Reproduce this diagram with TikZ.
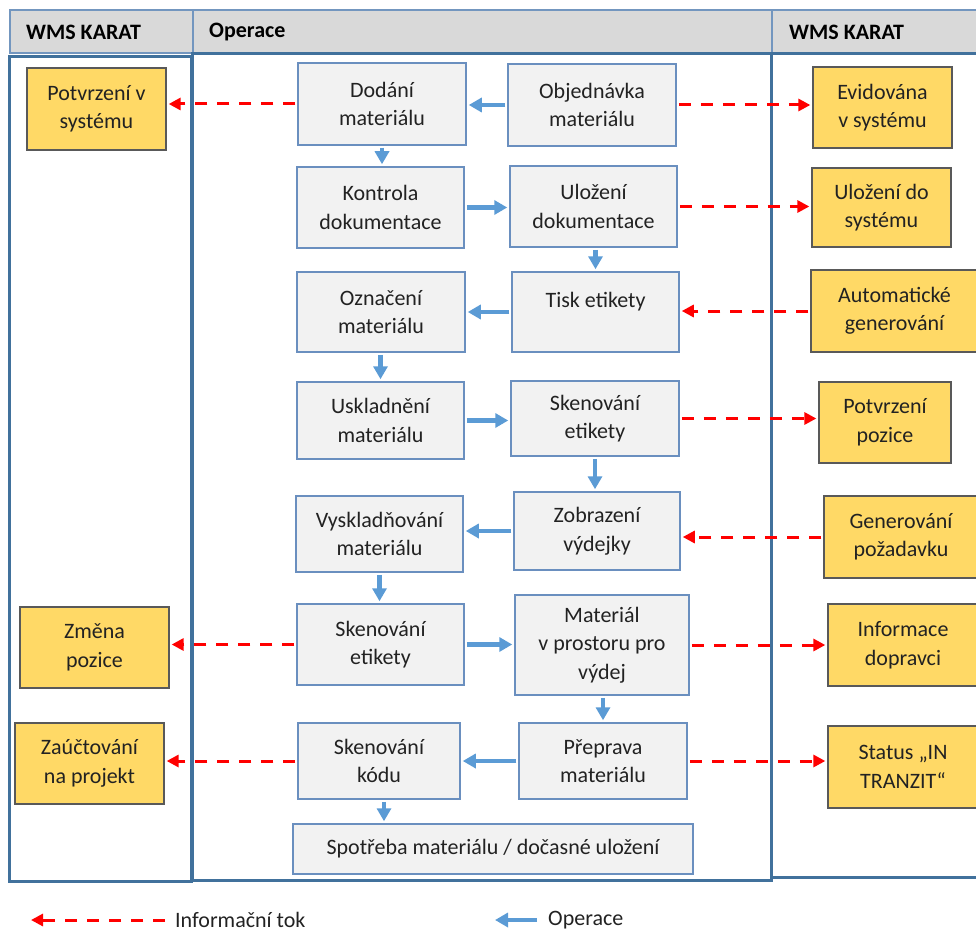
\documentclass[tikz,border=0pt]{standalone}
\usepackage{fontspec}
\setmainfont{Carlito}
\usetikzlibrary{arrows.meta}
\definecolor{lane}{HTML}{41719C}
\definecolor{headfill}{HTML}{D9D9D9}
\definecolor{headline}{HTML}{7396BF}
\definecolor{procfill}{HTML}{F2F2F2}
\definecolor{procline}{HTML}{6A8FBF}
\definecolor{notefill}{HTML}{FFD966}
\definecolor{noteline}{HTML}{595959}
\definecolor{opblue}{HTML}{5B9BD5}
\definecolor{infored}{HTML}{FF0000}
\definecolor{txt}{HTML}{222222}
\begin{document}
\begin{tikzpicture}[x=1pt,y=-1pt,
  font=\fontsize{22}{28.5}\selectfont,
  proc/.style={draw=procline, fill=procfill, line width=1.5pt, align=center, inner sep=0pt, text=txt},
  note/.style={draw=noteline, fill=notefill, line width=1.3pt, align=center, inner sep=0pt, text=txt},
  op/.style={draw=opblue, line width=4.5pt, -{Triangle[length=13pt,width=14pt]}, shorten <=2pt, shorten >=2pt},
  info/.style={draw=infored, line width=3pt, dash pattern=on 12pt off 10pt, -{Triangle[length=12pt,width=12pt]}, shorten <=2pt, shorten >=2pt},
  headcell/.style={draw=headline, fill=headfill, line width=1.2pt},
  headtext/.style={font=\fontsize{22}{26}\selectfont\bfseries, anchor=west, text=black, inner sep=0pt},
  lanebox/.style={draw=lane, line width=3pt},
  legtext/.style={anchor=west, text=txt, inner sep=0pt}
]
\useasboundingbox (0,0) rectangle (976,933);

% column headers
\draw[headcell] (10,10) rectangle (193,53);
\draw[headcell] (193,10) rectangle (772,53);
\draw[headcell] (772,10) rectangle (990,53);
\node[headtext] (h1) at (26,32) {WMS KARAT};
\node[headtext] (h2) at (209,32) {Operace};
\node[headtext] (h3) at (789,32) {WMS KARAT};

% swim lanes
\draw[lanebox] (9,57) rectangle (191,881);
\draw[lanebox] (771,54) rectangle (990,877);
\draw[lanebox] (192,54) rectangle (771,880);

% process steps
\node[proc, minimum width=168pt, minimum height=82pt] (dod) at (382,104) {Dodání\\materiálu};
\node[proc, minimum width=168pt, minimum height=82pt] (obj) at (592,105) {Objednávka\\materiálu};
\node[proc, minimum width=167pt, minimum height=81pt] (kon) at (380.5,207.5) {Kontrola\\dokumentace};
\node[proc, minimum width=167pt, minimum height=81pt] (ulo) at (593.5,206.5) {Uložení\\dokumentace};
\node[proc, minimum width=168pt, minimum height=80pt] (ozn) at (381,312) {Označení\\materiálu};
\node[proc, minimum width=167pt, minimum height=80pt,
      label={[yshift=10pt, text=txt]center:Tisk etikety}] (tis) at (595.5,312) {};
\node[proc, minimum width=167pt, minimum height=77pt] (usk) at (380.5,420.5) {Uskladnění\\materiálu};
\node[proc, minimum width=168pt, minimum height=75pt] (ske) at (595,418.5) {Skenování\\etikety};
\node[proc, minimum width=167pt, minimum height=76pt] (vys) at (379.5,534) {Vyskladňování\\materiálu};
\node[proc, minimum width=166pt, minimum height=78pt] (zob) at (597,531) {Zobrazení\\výdejky};
\node[proc, minimum width=167pt, minimum height=81pt] (sk2) at (380.5,644.5) {Skenování\\etikety};
\node[proc, minimum width=174pt, minimum height=100pt] (mat) at (602,645) {Materiál\\v prostoru pro\\výdej};
\node[proc, minimum width=162pt, minimum height=76pt] (skk) at (379,761) {Skenování\\kódu};
\node[proc, minimum width=168pt, minimum height=76pt] (pre) at (603,761) {Přeprava\\materiálu};
\node[proc, minimum width=400pt, minimum height=50pt] (spo) at (493,849) {Spotřeba materiálu / dočasné uložení};

% system records
\node[note, minimum width=139pt, minimum height=82pt] (pvs) at (96.5,109) {Potvrzení v\\systému};
\node[note, minimum width=149pt, minimum height=81pt] (zmp) at (94.5,647.5) {Změna\\pozice};
\node[note, minimum width=149pt, minimum height=81pt] (zap) at (89.5,763.5) {Zaúčtování\\na projekt};
\node[note, minimum width=139pt, minimum height=81pt] (evi) at (882.5,107.5) {Evidována\\v systému};
\node[note, minimum width=139pt, minimum height=79pt] (uds) at (881.5,207.5) {Uložení do\\systému};
\node[note, minimum width=167pt, minimum height=82pt] (aut) at (894.5,311) {Automatické\\generování};
\node[note, minimum width=132pt, minimum height=81pt] (ppo) at (885,422.5) {Potvrzení\\pozice};
\node[note, minimum width=154pt, minimum height=82pt] (gen) at (901,537) {Generování\\požadavku};
\node[note, minimum width=150pt, minimum height=82pt] (inf) at (903,645) {Informace\\dopravci};
\node[note, minimum width=150pt, minimum height=82pt] (sta) at (903,767) {Status „IN\\TRANZIT“};

% operation flow
\draw[op] (obj.west) -- (dod.east |- obj.west);
\draw[op] (dod.south) -- (kon.north -| dod.south);
\draw[op] (kon.east) -- (ulo.west |- kon.east);
\draw[op] (ulo.south -| tis.north) -- (tis.north);
\draw[op] (tis.west) -- (ozn.east |- tis.west);
\draw[op] (ozn.south -| usk.north) -- (usk.north);
\draw[op] (usk.east) -- (ske.west |- usk.east);
\draw[op] (ske.south) -- (zob.north -| ske.south);
\draw[op] (zob.west) -- (vys.east |- zob.west);
\draw[op] (vys.south) -- (sk2.north -| vys.south);
\draw[op] (sk2.east) -- (mat.west |- sk2.east);
\draw[op] (mat.south -| pre.north) -- (pre.north);
\draw[op] (pre.west) -- (skk.east |- pre.west);
\draw[op] ([xshift=5pt]skk.south) -- ([xshift=5pt]spo.north -| skk.south);

% information flow
\draw[info] (dod.west) -- (pvs.east |- dod.west);
\draw[info] (obj.east) -- (evi.west |- obj.east);
\draw[info] (ulo.east) -- (uds.west |- ulo.east);
\draw[info] (aut.west) -- (tis.east |- aut.west);
\draw[info] (ske.east) -- (ppo.west |- ske.east);
\draw[info] (gen.west) -- (zob.east |- gen.west);
\draw[info] (sk2.west) -- (zmp.east |- sk2.west);
\draw[info] (mat.east) -- (inf.west |- mat.east);
\draw[info] (skk.west) -- (zap.east |- skk.west);
\draw[info] (pre.east) -- (sta.west |- pre.east);

% legend
\coordinate (ia) at (165,920);
\coordinate (ib) at (31,920);
\draw[info, shorten <=0pt, shorten >=0pt] (ia) -- (ib);
\node[legtext] (it) at (175,920) {Informační tok};
\coordinate (oa) at (537,920);
\coordinate (ob) at (495,920);
\draw[op, shorten <=0pt, shorten >=0pt] (oa) -- (ob);
\node[legtext] (ot) at (548,920) {Operace};
\end{tikzpicture}
\end{document}
